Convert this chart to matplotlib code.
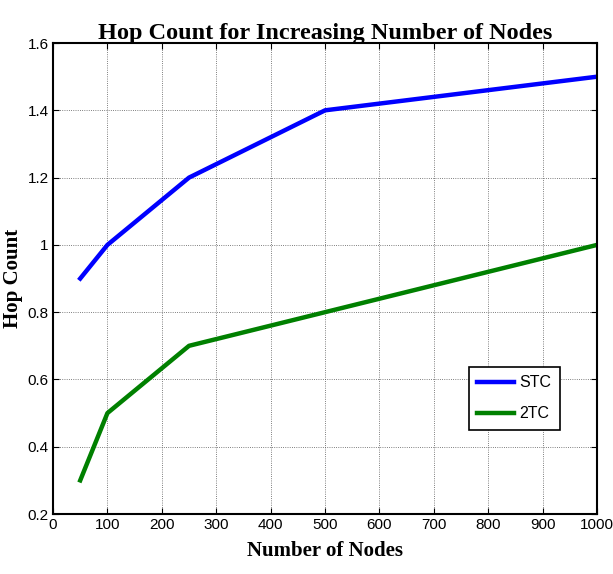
import matplotlib
matplotlib.use("Agg")
import matplotlib.pyplot as plt

nodes = [50, 100, 250, 500, 1000]
stc = [0.9, 1.0, 1.2, 1.4, 1.5]
ttc = [0.3, 0.5, 0.7, 0.8, 1.0]

xticks = list(range(0, 1001, 100))
yticks = [0.2, 0.4, 0.6, 0.8, 1.0, 1.2, 1.4, 1.6]
ytick_labels = ['0.2', '0.4', '0.6', '0.8', '1', '1.2', '1.4', '1.6']

plt.rcParams['font.family'] = ['Liberation Sans', 'DejaVu Sans']

fig = plt.figure(figsize=(6.13, 5.74), dpi=100)
ax = fig.add_axes([0.0865, 0.1045, 0.8875, 0.8205])

ax.plot(nodes, stc, color='#0000ff', lw=3.2, label='STC')
ax.plot(nodes, ttc, color='#008000', lw=3.2, label='2TC')

ax.set_xlim(0, 1000)
ax.set_ylim(0.2, 1.6)
ax.set_xticks(xticks)
ax.set_yticks(yticks)
ax.set_yticklabels(ytick_labels)
ax.tick_params(direction='in', labelsize=11, length=4, width=0.8, pad=3)
ax.tick_params(top=True, right=True)
ax.grid(True, color='#555555', linestyle=':', lw=0.6)
for s in ax.spines.values():
    s.set_linewidth(1.5)

ax.set_title('Hop Count for Increasing Number of Nodes', fontsize=17.5,
             fontweight='bold', family='Liberation Serif', pad=3)
ax.set_xlabel('Number of Nodes', fontsize=15, fontweight='bold',
              family='Liberation Serif', labelpad=6)
ax.set_ylabel('Hop Count', fontsize=15, fontweight='bold',
              family='Liberation Serif')
ax.yaxis.set_label_coords(-0.055, 0.5)

leg = ax.legend(loc='upper left', bbox_to_anchor=(0.764, 0.313),
                fontsize=11.5, fancybox=False, framealpha=1,
                edgecolor='black', handlelength=2.3, borderpad=0.55,
                labelspacing=1.0, handletextpad=0.3, borderaxespad=0)
leg.get_frame().set_linewidth(1.2)

fig.savefig('out.png', dpi=100)
